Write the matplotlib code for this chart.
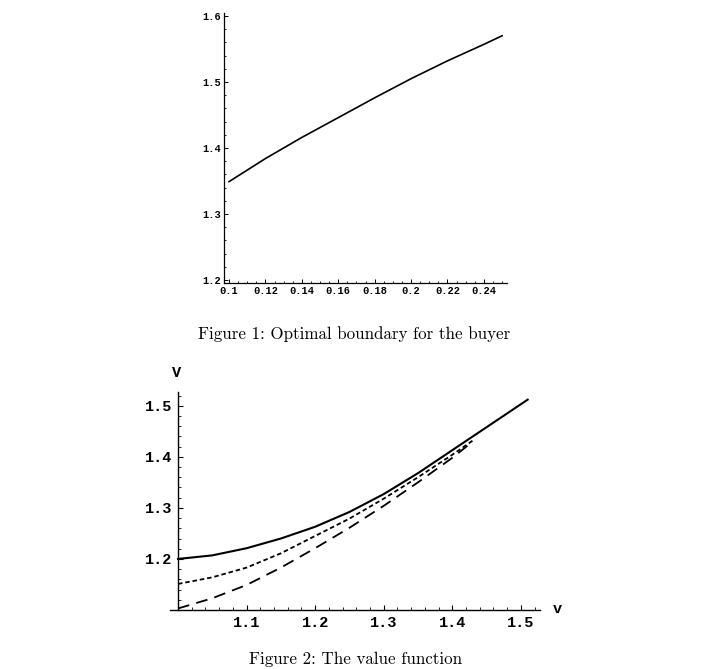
import matplotlib
matplotlib.use("Agg")
import matplotlib.pyplot as plt
from matplotlib.ticker import MultipleLocator, FixedLocator

# ---- Data: Figure 1 (optimal boundary) ----
fig1_x = [0.10, 0.12, 0.14, 0.16, 0.18, 0.20, 0.22, 0.24, 0.25]
fig1_y = [1.349, 1.384, 1.416, 1.446, 1.476, 1.505, 1.532, 1.557, 1.570]
fig1_xticks = [0.1, 0.12, 0.14, 0.16, 0.18, 0.2, 0.22, 0.24]
fig1_xticklabels = ["0.1", "0.12", "0.14", "0.16", "0.18", "0.2", "0.22", "0.24"]
fig1_yticks = [1.2, 1.3, 1.4, 1.5, 1.6]
fig1_yticklabels = ["1.2", "1.3", "1.4", "1.5", "1.6"]

# ---- Data: Figure 2 (value function) ----
solid_v = [1.00, 1.05, 1.10, 1.15, 1.20, 1.25, 1.30, 1.35, 1.40, 1.45, 1.51]
solid_V = [1.200, 1.207, 1.221, 1.240, 1.263, 1.292, 1.327, 1.368, 1.413, 1.458, 1.512]
dotted_v = [1.00, 1.05, 1.10, 1.15, 1.20, 1.25, 1.30, 1.35, 1.40, 1.43]
dotted_V = [1.151, 1.164, 1.183, 1.211, 1.245, 1.279, 1.318, 1.360, 1.404, 1.432]
dashed_v = [1.00, 1.05, 1.10, 1.15, 1.20, 1.25, 1.30, 1.35, 1.40, 1.43]
dashed_V = [1.103, 1.123, 1.149, 1.183, 1.221, 1.261, 1.304, 1.350, 1.398, 1.430]
fig2_xticks = [1.1, 1.2, 1.3, 1.4, 1.5]
fig2_xticklabels = ["1.1", "1.2", "1.3", "1.4", "1.5"]
fig2_yticks = [1.2, 1.3, 1.4, 1.5]
fig2_yticklabels = ["1.2", "1.3", "1.4", "1.5"]

caption1 = "Figure 1: Optimal boundary for the buyer"
caption2 = "Figure 2: The value function"

W, H = 718, 669
fig = plt.figure(figsize=(W / 100, H / 100), dpi=100)
fig.patch.set_facecolor("white")

mono = {"family": "Liberation Mono", "weight": "bold"}


def px_axes(l, t, r, b):
    return fig.add_axes([l / W, 1 - b / H, (r - l) / W, (b - t) / H])


# ---------- Figure 1 ----------
ax1 = px_axes(224, 13, 507, 283)
ax1.plot(fig1_x, fig1_y, color="black", lw=1.2)
ax1.set_xlim(0.09725, 0.2527)
ax1.set_ylim(1.1955, 1.6045)
for s in ("top", "right"):
    ax1.spines[s].set_visible(False)
for s in ("left", "bottom"):
    ax1.spines[s].set_linewidth(0.9)
ax1.xaxis.set_major_locator(FixedLocator(fig1_xticks))
ax1.set_xticklabels(fig1_xticklabels, fontdict=mono, fontsize=7.5)
ax1.yaxis.set_major_locator(FixedLocator(fig1_yticks))
ax1.set_yticklabels(fig1_yticklabels, fontdict=mono, fontsize=7.5)
ax1.xaxis.set_minor_locator(MultipleLocator(0.005))
ax1.yaxis.set_minor_locator(MultipleLocator(0.02))
ax1.tick_params(which="major", direction="in", length=3, width=0.7, pad=2.5)
ax1.tick_params(which="minor", direction="in", length=1.6, width=0.6)
ax1.tick_params(axis="y", pad=2)

fig.text(354 / W, 1 - 334 / H, caption1, family="cmr10", fontsize=12.2,
         ha="center", va="center")

# ---------- Figure 2 ----------
ax2 = px_axes(170, 392, 540, 610)
ax2.plot(solid_v, solid_V, color="black", lw=1.5)
ax2.plot(dotted_v, dotted_V, color="black", lw=1.3, dashes=(2.5, 1.6))
ax2.plot(dashed_v, dashed_V, color="black", lw=1.3, dashes=(6.5, 4))
ax2.set_xlim(1.0 - 8 / 685, 1.528)
ax2.set_ylim(1.1, 1.527)
ax2.spines["left"].set_position(("data", 1.0))
for s in ("top", "right"):
    ax2.spines[s].set_visible(False)
for s in ("left", "bottom"):
    ax2.spines[s].set_linewidth(1.0)
ax2.xaxis.set_major_locator(FixedLocator(fig2_xticks))
ax2.set_xticklabels(fig2_xticklabels, fontdict=mono, fontsize=11)
ax2.yaxis.set_major_locator(FixedLocator(fig2_yticks))
ax2.set_yticklabels(fig2_yticklabels, fontdict=mono, fontsize=11)
ax2.xaxis.set_minor_locator(MultipleLocator(0.02))
ax2.yaxis.set_minor_locator(MultipleLocator(0.02))
ax2.tick_params(which="major", direction="in", length=3.5, width=0.8)
ax2.tick_params(which="minor", direction="in", length=2, width=0.6)
ax2.tick_params(axis="x", pad=4)
ax2.tick_params(axis="y", pad=4)

fig.text(177 / W, 1 - 373 / H, "V", fontdict=mono, fontsize=11,
         ha="center", va="center")
fig.text(557 / W, 1 - 609 / H, "v", fontdict=mono, fontsize=11,
         ha="center", va="center")

fig.text(356 / W, 1 - 659 / H, caption2, family="cmr10", fontsize=12.2,
         ha="center", va="center")

fig.savefig("out.png", dpi=100, facecolor="white")
